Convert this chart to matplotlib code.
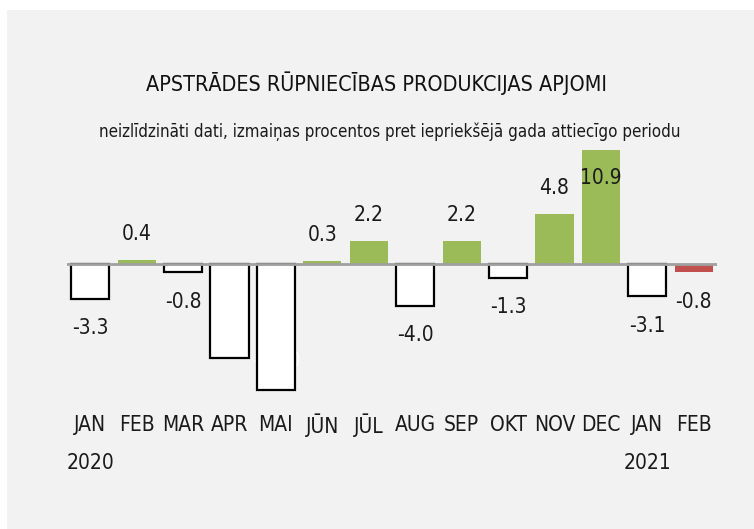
import matplotlib.pyplot as plt
import numpy as np

plt.rcParams['font.family'] = ['DejaVu Sans']
plt.rcParams['font.stretch'] = 'condensed'

months = ['JAN', 'FEB', 'MAR', 'APR', 'MAI', 'JŪN', 'JŪL', 'AUG', 'SEP', 'OKT', 'NOV', 'DEC', 'JAN', 'FEB']
years = {0: '2020', 12: '2021'}
values = [-3.3, 0.4, -0.8, -9.0, -12.0, 0.3, 2.2, -4.0, 2.2, -1.3, 4.8, 10.9, -3.1, -0.8]

green = '#9bbb59'
red = '#c0504d'
bg = '#f2f2f2'
dark = '#1a1a1a'

fig = plt.figure(figsize=(7.54, 5.29), dpi=100)
fig.patch.set_facecolor('white')
# grey panel, leaves a thin white strip on the left and top
bg_ax = fig.add_axes([7 / 754, 0, 1 - 7 / 754, 1 - 10 / 529], zorder=-1)
bg_ax.set_facecolor(bg)
bg_ax.set_xticks([])
bg_ax.set_yticks([])
for s in bg_ax.spines.values():
    s.set_visible(False)

ax = fig.add_axes([67 / 754, 129 / 529, 650 / 754, 256.3 / 529])
ax.set_facecolor('none')
ax.set_xlim(-0.5, len(values) - 0.5)
ax.set_ylim(-13, 11.5)
ax.axis('off')

for i, v in enumerate(values):
    if i == len(values) - 1:
        ax.bar(i, v, width=0.82, color=red, zorder=2)
    elif v > 0:
        ax.bar(i, v, width=0.82, color=green, zorder=2)
    else:
        ax.bar(i, v, width=0.82, facecolor='white', edgecolor='black', linewidth=1.6, zorder=2)

ax.axhline(0, color='#a0a0a0', linewidth=2, zorder=3)

for i, v in enumerate(values):
    txt = f'{v:.1f}'
    if v >= 10:
        ax.text(i, v - 2.7, txt, ha='center', va='center', fontsize=15, color=dark)
    elif v < -8:
        # white labels inside the white bars (invisible in the original)
        ax.text(i, v + 2.7, txt, ha='center', va='center', fontsize=15, color='white', zorder=1)
    elif v > 0:
        ax.text(i, v + 2.5, txt, ha='center', va='center', fontsize=15, color=dark)
    else:
        ax.text(i, v - 2.8, txt, ha='center', va='center', fontsize=15, color=dark)

for i, m in enumerate(months):
    ax.text(i, -15.4, m, ha='center', va='center', fontsize=15, color=dark, clip_on=False)
for i, y in years.items():
    ax.text(i, -19.0, y, ha='center', va='center', fontsize=15, color=dark, clip_on=False)

fig.text(377 / 754, 1 - 83 / 529, 'APSTRĀDES RŪPNIECĪBAS PRODUKCIJAS APJOMI',
         ha='center', va='center', fontsize=15.5, color='#111111')
fig.text(390 / 754, 1 - 132 / 529,
         'neizlīdzināti dati, izmaiņas procentos pret iepriekšējā gada attiecīgo periodu',
         ha='center', va='center', fontsize=12.2, color=dark)

fig.savefig('out.png', dpi=100)
